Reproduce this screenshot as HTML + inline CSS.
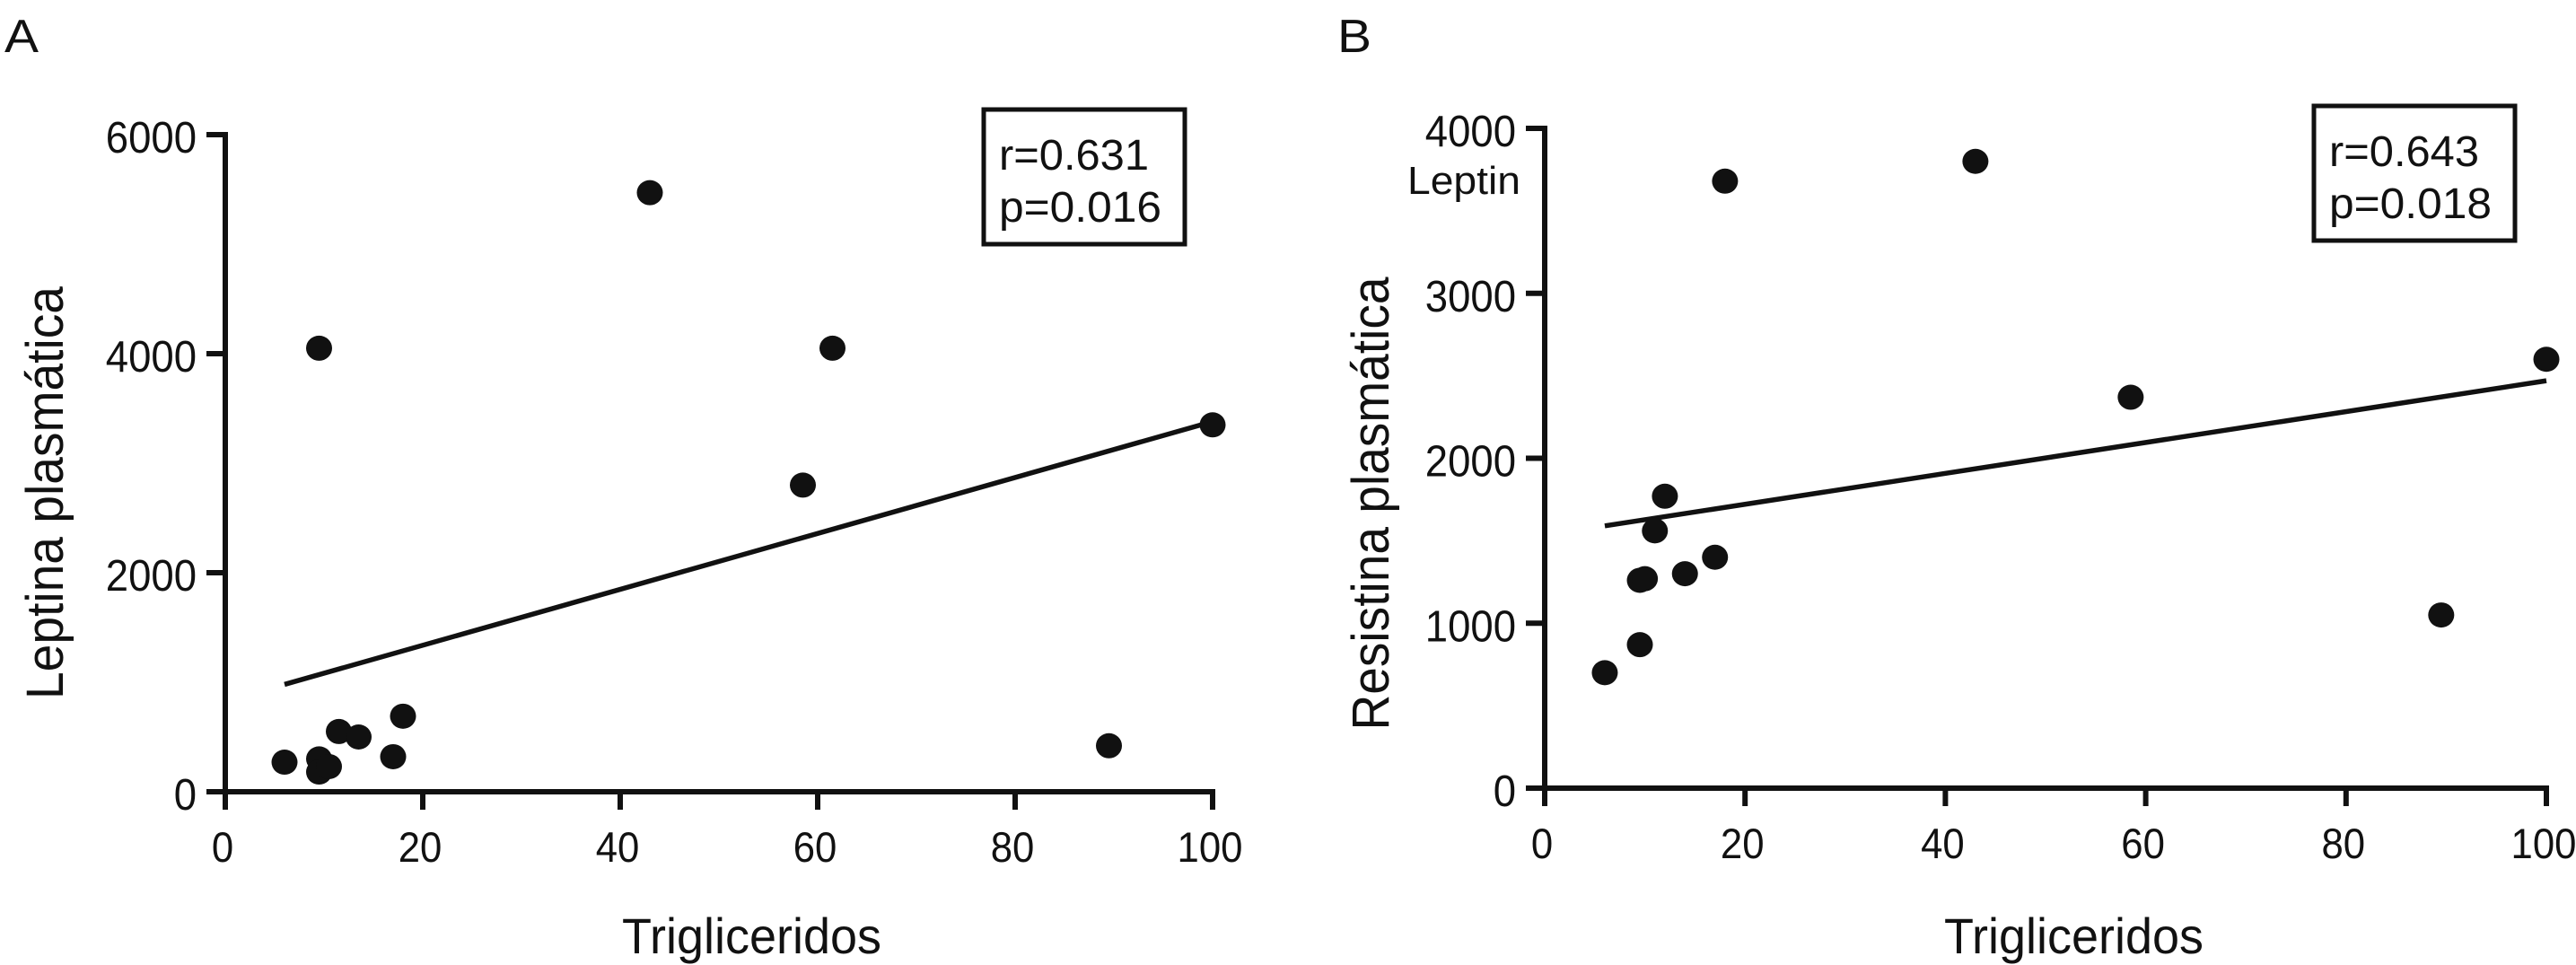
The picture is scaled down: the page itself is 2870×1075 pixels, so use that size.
<!DOCTYPE html>
<html><head><meta charset="utf-8"><style>
html,body{margin:0;padding:0;background:#fff;}
svg{display:block;font-family:"Liberation Sans",sans-serif;}
</style></head><body>
<svg id="chart" width="2870" height="1075" viewBox="0 0 2870 1075"></svg>
<script>
// Panel A data
const aX = [6, 9.5, 9.5, 10.5, 11.5, 13.5, 17, 18, 9.5, 43, 58.5, 61.5, 89.5, 100];
const aY = [270, 300, 180, 230, 550, 500, 320, 690, 4050, 5470, 2800, 4050, 420, 3350];
const aFitX = [6, 100];
const aFitY = [980, 3380];
const aYTicks = [0, 2000, 4000, 6000];
// Panel B data
const bX = [6, 9.5, 9.5, 10, 11, 12, 14, 17, 18, 43, 58.5, 89.5, 100];
const bY = [700, 870, 1260, 1270, 1560, 1770, 1300, 1400, 3680, 3800, 2370, 1050, 2600];
const bFitX = [6, 100];
const bFitY = [1590, 2470];
const bYTicks = [0, 1000, 2000, 3000, 4000];
const xTicks = [0, 20, 40, 60, 80, 100];

const NS = "http://www.w3.org/2000/svg";
const svg = document.getElementById("chart");
function mk(tag, attrs, parent) {
  const e = document.createElementNS(NS, tag);
  for (const k in attrs) e.setAttribute(k, attrs[k]);
  (parent || svg).appendChild(e);
  return e;
}
const DW = 24.3;
function panel(p) {
  const g = mk("g", {});
  
  
  const sx = v => p.x0 + v / 100 * (p.x1 - p.x0);
  const sy = v => p.y0 - v / p.ymax * (p.y0 - p.y1);
  const ya = mk("line", {x1: p.x0, y1: p.y0 + 2, x2: p.x0, y2: p.y1 - 3, stroke: "#111", "stroke-width": 6}, g);
  
  
  const xa = mk("line", {x1: p.x0 - 3, y1: p.y0, x2: p.x1 + 3, y2: p.y0, stroke: "#111", "stroke-width": 6}, g);
  
  
  p.yTicks.forEach(t => {
    const y = sy(t);
    const tk = mk("line", {x1: p.x0 - 21, y1: y, x2: p.x0, y2: y, stroke: "#111", "stroke-width": 6}, g);
    
    
    const s = String(t);
    const w = s.length * 25.3;
    const tx = mk("text", {x: p.x0 - 32 - w, y: y + 20, "font-size": 49, fill: "#111", textLength: w, lengthAdjust: "spacingAndGlyphs"}, g);
    tx.textContent = s;
    
    
  });
  xTicks.forEach(t => {
    const x = sx(t);
    const tk = mk("line", {x1: x, y1: p.y0, x2: x, y2: p.y0 + 20, stroke: "#111", "stroke-width": 6}, g);
    
    
    const s = String(t);
    const w = s.length * DW;
    const tx = mk("text", {x: x - w / 2 - 3, y: p.y0 + 78, "font-size": 47, fill: "#111", textLength: w, lengthAdjust: "spacingAndGlyphs"}, g);
    tx.textContent = s;
    
    
  });
  const fl = mk("line", {x1: sx(p.fx[0]), y1: sy(p.fy[0]), x2: sx(p.fx[1]), y2: sy(p.fy[1]), stroke: "#111", "stroke-width": 5.5}, g);
  
  
  p.xs.forEach((v, i) => {
    const c = mk("ellipse", {cx: sx(v), cy: sy(p.ys[i]), rx: 14.5, ry: 14, fill: "#111"}, g);
    
    
  });
  const bx = mk("rect", {x: p.box[0], y: p.box[1], width: 224, height: 150, fill: "#fff", stroke: "#111", "stroke-width": 5}, g);
  
  
  const r = mk("text", {x: p.box[0] + 17, y: p.box[1] + 67, "font-size": 48, fill: "#111", textLength: 167, lengthAdjust: "spacingAndGlyphs"}, g);
  r.textContent = p.r;
  
  
  const pv = mk("text", {x: p.box[0] + 17, y: p.box[1] + 125, "font-size": 48, fill: "#111", textLength: 181, lengthAdjust: "spacingAndGlyphs"}, g);
  pv.textContent = p.p;
  
  
  const xt = mk("text", {x: p.xtx, y: 1062, "font-size": 56, fill: "#111", textLength: 289, lengthAdjust: "spacingAndGlyphs"}, g);
  xt.textContent = "Trigliceridos";
  
  
  const yt = mk("text", {x: -p.ylen / 2, y: 0, "font-size": 58, fill: "#111", textLength: p.ylen, lengthAdjust: "spacingAndGlyphs", transform: `translate(${p.ytx},${p.yty}) rotate(-90)`}, g);
  yt.textContent = p.ytitle;
  
  
  const lt = mk("text", {x: p.lx, y: 58, "font-size": 52, fill: "#111", textLength: 38, lengthAdjust: "spacingAndGlyphs"}, g);
  lt.textContent = p.letter;
  
  
}
panel({name: "panel-a", x0: 251, x1: 1351, y0: 882, y1: 150, ymax: 6000, yTicks: aYTicks,
  xs: aX, ys: aY, fx: aFitX, fy: aFitY, box: [1096, 122], r: "r=0.631", p: "p=0.016",
  ytitle: "Leptina plasmática", ytx: 70, yty: 549, ylen: 460, xtx: 693, letter: "A", lx: 5});
panel({name: "panel-b", x0: 1721, x1: 2837, y0: 878, y1: 143, ymax: 4000, yTicks: bYTicks,
  xs: bX, ys: bY, fx: bFitX, fy: bFitY, box: [2578, 118], r: "r=0.643", p: "p=0.018",
  ytitle: "Resistina plasmática", ytx: 1547, yty: 561, ylen: 505, xtx: 2166, letter: "B", lx: 1490});
const lep = mk("text", {x: 1568, y: 216, "font-size": 44, fill: "#111", textLength: 126, lengthAdjust: "spacingAndGlyphs"});
lep.textContent = "Leptin";


</script>
</body></html>
